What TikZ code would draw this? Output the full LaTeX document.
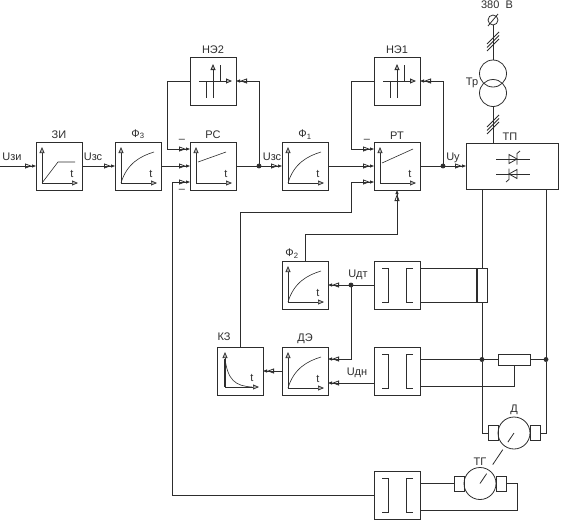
\documentclass[tikz,border=0pt]{standalone}
\usepackage{fontspec}
\setmainfont{Liberation Sans}
\usetikzlibrary{arrows.meta,positioning}
\definecolor{ink}{RGB}{45,45,45}
\begin{document}
\begin{tikzpicture}[x=1pt,y=1pt,line width=.8pt,draw=ink,text=ink,font=\fontsize{11}{13}\selectfont,every node/.style={outer sep=0pt},
block/.style={draw=ink,minimum width=46pt,minimum height=48pt,inner sep=0pt},
lab/.style={inner sep=0pt},
arrow/.style={draw=ink,-{Triangle[open,length=7pt,width=5pt] Triangle[length=4pt,width=3pt]}},
axis/.style={draw=ink,line width=.7pt,{Triangle[open,length=6pt,width=5pt,fill=ink!35]}-{Triangle[open,length=6pt,width=5pt,fill=ink!35]}},
graph/.style={draw=ink,line width=.6pt},
dot/.style={circle,fill=ink,draw=ink,inner sep=0pt,minimum size=4pt},
brush/.style={draw=ink,minimum width=10pt,minimum height=15pt,inner sep=0pt},
machine/.style={circle,draw=ink,minimum size=32pt,inner sep=0pt}]
\useasboundingbox (0,0) rectangle (562,-525);
% regulators
\node[block,label={[lab,yshift=3pt]above:ЗИ}] (zi) at (59,-166) {};
\node[block,right=33pt of zi,label={[lab,yshift=3pt]above:Ф\textsubscript{3}}] (f3) {};
\node[block,right=29pt of f3,label={[lab,yshift=3pt]above:РС}] (rs) {};
\node[block,above=37pt of rs,label={[lab,yshift=3pt]above:НЭ2}] (ne2) {};
\node[block,right=46pt of rs,label={[lab,yshift=3pt]above:Ф\textsubscript{1}}] (f1) {};
\node[block,right=46pt of f1,label={[lab,yshift=3pt]above:РТ}] (rt) {};
\node[block,above=37pt of rt,label={[lab,yshift=3pt]above:НЭ1}] (ne1) {};
\node[block,right=46pt of rt,minimum width=92pt,minimum height=46pt,label={[lab,yshift=3pt,xshift=-2pt]above:ТП}] (tp) {};
% feedback blocks
\node[block,below=71pt of f1,label={[lab,yshift=3pt,xshift=-13pt]above:Ф\textsubscript{2}}] (f2) {};
\node[block,below=38pt of f2,label={[lab,yshift=3pt]above:ДЭ}] (de) {};
\node[block,left=19pt of de,label={[lab,yshift=6pt,xshift=-16pt]above:КЗ}] (kz) {};
\node[block,right=46pt of f2] (dt1) {};
\node[block,right=46pt of de] (dt2) {};
\node[block,below=76pt of dt2] (dt3) {};
% inner marks of blocks
\foreach \n in {zi,f3,rs,f1,rt,f2,de} {
  \draw[axis] ([shift={(-17pt,19pt)}]\n.center) |- ([shift={(19pt,-17pt)}]\n.center);
  \node[lab] (t\n) at ([shift={(13pt,-8pt)}]\n.center) {t};
}
\draw[axis] ([shift={(-15pt,19pt)}]kz.center) |- ([shift={(19pt,-16pt)}]kz.center);
\draw[line width=1.4pt,draw=ink] ([shift={(-15pt,12pt)}]kz.center) -- ([shift={(-15pt,-16pt)}]kz.center);
\node[lab] (tkz) at ([shift={(12pt,-7pt)}]kz.center) {t};
\draw[graph] ([shift={(-17pt,-17pt)}]zi.center) -- ([shift={(-1pt,4pt)}]zi.center) -- ([shift={(16pt,4pt)}]zi.center);
\foreach \n in {f3,f1,f2,de}
  \draw[graph] ([shift={(-17pt,-17pt)}]\n.center) .. controls ([shift={(-11pt,3pt)}]\n.center) and ([shift={(3pt,10pt)}]\n.center) .. ([shift={(16pt,14pt)}]\n.center);
\draw[graph] ([shift={(-15pt,12pt)}]kz.center) .. controls ([shift={(-12pt,-9pt)}]kz.center) and ([shift={(-5pt,-15pt)}]kz.center) .. ([shift={(12pt,-16pt)}]kz.center);
\draw[graph] ([shift={(-15pt,4pt)}]rs.center) -- ([shift={(13pt,14pt)}]rs.center);
\draw[graph] ([shift={(-15pt,3pt)}]rt.center) -- ([shift={(16pt,17pt)}]rt.center);
\foreach \n in {ne1,ne2} {
  \draw[draw=ink,-{Triangle[open,length=6pt,width=5pt,fill=ink!35]}] ([xshift=-14pt]\n.center) -- ([xshift=19pt]\n.center);
  \draw[draw=ink,-{Triangle[open,length=6pt,width=5pt,fill=ink!35]}] ([yshift=-17pt]\n.center) -- ([yshift=17pt]\n.center);
  \draw ([xshift=-7pt]\n.center) -- ([shift={(-7pt,-17pt)}]\n.center);
  \draw ([xshift=7pt]\n.center) -- ([shift={(7pt,16pt)}]\n.center);
}
\foreach \n in {dt1,dt2,dt3} {
  \draw ([shift={(-15pt,17pt)}]\n.center) -- ([shift={(-9pt,17pt)}]\n.center) -- ([shift={(-9pt,-17pt)}]\n.center) -- ([shift={(-15pt,-17pt)}]\n.center);
  \draw ([shift={(16pt,17pt)}]\n.center) -- ([shift={(9pt,17pt)}]\n.center) -- ([shift={(9pt,-17pt)}]\n.center) -- ([shift={(16pt,-17pt)}]\n.center);
}
% thyristors
\draw ([shift={(-16pt,7pt)}]tp.center) -- ([shift={(18pt,7pt)}]tp.center);
\draw ([shift={(-3pt,11.5pt)}]tp.center) -- ([shift={(-3pt,2.5pt)}]tp.center) -- ([shift={(5pt,7pt)}]tp.center) -- cycle;
\draw ([shift={(5pt,1.5pt)}]tp.center) -- ([shift={(5pt,12.5pt)}]tp.center) -- ([shift={(8pt,15pt)}]tp.center);
\draw ([shift={(-16pt,-8pt)}]tp.center) -- ([shift={(18pt,-8pt)}]tp.center);
\draw ([shift={(5pt,-3.5pt)}]tp.center) -- ([shift={(5pt,-12.5pt)}]tp.center) -- ([shift={(-3pt,-8pt)}]tp.center) -- cycle;
\draw ([shift={(-3pt,-2.5pt)}]tp.center) -- ([shift={(-3pt,-13.5pt)}]tp.center) -- ([shift={(-6pt,-16pt)}]tp.center);
% supply
\node[circle,draw=ink,minimum size=10pt,inner sep=0pt] (net) at (493,-20) {};
\node[lab] (v380) at (497,-5) {380\ \ В};
\draw ([shift={(-5pt,-6pt)}]net.center) -- ([shift={(5pt,6pt)}]net.center);
\node[circle,draw=ink,minimum size=27pt,inner sep=0pt] (trup) at (493,-73.5) {};
\node[circle,draw=ink,minimum size=27pt,inner sep=0pt] (trlo) at (493,-93) {};
\node[lab] (trname) at (472,-83) {Тр};
\draw (net) -- (trup);
\draw (trlo) -- (trlo |- tp.north);
\foreach \y in {-38,-41.5,-45} \draw ([shift={(-6pt,\y pt-6pt)}]493,0) -- ([shift={(6pt,\y pt+6pt)}]493,0);
\foreach \y in {-121,-124.5,-128} \draw ([shift={(-6pt,\y pt-6pt)}]493,0) -- ([shift={(6pt,\y pt+6pt)}]493,0);
% forward path
\coordinate (uin) at (0,-166);
\draw[arrow] (uin) -- (zi);
\node[lab] (uzi) at (12,-157) {Uзи};
\draw[arrow] (zi) -- (f3);
\node[lab] (uzs) at (93,-157) {Uзс};
\draw[arrow] (f3) -- (rs);
\path (rs) -- node[dot,midway] (jrs) {} (f1);
\draw[arrow] (rs) -- (f1);
\node[lab] (uzs2) at (272,-157) {Uзс};
\draw[arrow] (f1) -- (rt);
\path (rt) -- node[dot,midway] (jrt) {} (tp);
\draw[arrow] (rt) -- (tp);
\node[lab] (uu) at (453,-158) {Uу};
% limiters
\draw[arrow] (jrs) |- (ne2);
\draw[arrow] (ne2.west) -- ++(-23,0) |- ([yshift=17pt]rs.west);
\draw[arrow] (jrt) |- (ne1);
\draw[arrow] (ne1.west) -- ++(-23,0) |- ([yshift=17pt]rt.west);
\node[lab] (m1) at ([shift={(-8pt,1pt)}]rs.north west) {--};
\node[lab] (m2) at ([shift={(-8pt,-1pt)}]rs.south west) {--};
\node[lab] (m3) at ([shift={(-7pt,1pt)}]rt.north west) {--};
% feedback
\draw[arrow] (dt3.west) -| (172,-182) -- ([yshift=-16pt]rs.west);
\draw[arrow] (kz.north) |- (351,-212) |- ([yshift=-16pt]rt.west);
\draw[arrow] (f2.north) |- (rt.south |- 0,-234) -- (rt.south);
\path (dt1.west) -- node[dot,midway] (jdt) {} (f2.east);
\draw[arrow] (dt1.west) -- (f2.east);
\node[lab] (udt) at (358,-275) {Uдт};
\draw[arrow] (jdt) |- ([yshift=12pt]de.east);
\draw[arrow] ([yshift=-12pt]dt2.west) -- ([yshift=-12pt]de.east);
\node[lab] (udn) at (357,-373) {Uдн};
\draw[arrow] (de.west) -- (kz.east);
% armature circuit
\node[machine,label={[lab,yshift=2pt]above:Д}] (motor) at (514,-433) {};
\node[brush,left=0pt of motor] (dl) {};
\node[brush,right=0pt of motor] (dr) {};
\node[machine,label={[lab,yshift=2pt]above:ТГ}] (tg) at (480,-483.5) {};
\node[brush,left=0pt of tg] (gl) {};
\node[brush,right=0pt of tg] (gr) {};
\draw[dash pattern=on 11pt off 9pt on 18pt off 11pt on 12pt] (motor.center) -- (tg.center);
\coordinate (tpa) at ([xshift=-30pt]tp.south);
\coordinate (tpb) at ([xshift=34pt]tp.south);
\node[draw=ink,minimum width=10pt,minimum height=34pt,inner sep=0pt] (shunt) at (tpa |- dt1) {};
\draw[line width=1.5pt] (shunt.north west) -- (shunt.south west);
\node[draw=ink,minimum width=32pt,minimum height=11pt,inner sep=0pt] (rsh) at (514,-359.5) {};
\node[dot] (ja) at (tpa |- rsh) {};
\node[dot] (jb) at (tpb |- rsh) {};
\draw (tpa) -- (shunt.north);
\draw (shunt.south) -- (ja);
\draw (ja) |- (dl.west);
\draw (tpb) -- (jb);
\draw (jb) |- (dr.east);
\draw (ja) -- (rsh.west);
\draw (rsh.east) -- (jb);
\draw (shunt.north west) -- (shunt.north west -| dt1.east);
\draw (shunt.south west) -- (shunt.south west -| dt1.east);
\draw (ja) -- (ja -| dt2.east);
\draw (rsh.south) |- ([yshift=-15pt]dt2.east);
\draw (gl.west) -- (gl.west -| dt3.east);
\draw (gr.east) -- ++(11,0) |- ([yshift=-15pt]dt3.east);
\end{tikzpicture}
\end{document}
